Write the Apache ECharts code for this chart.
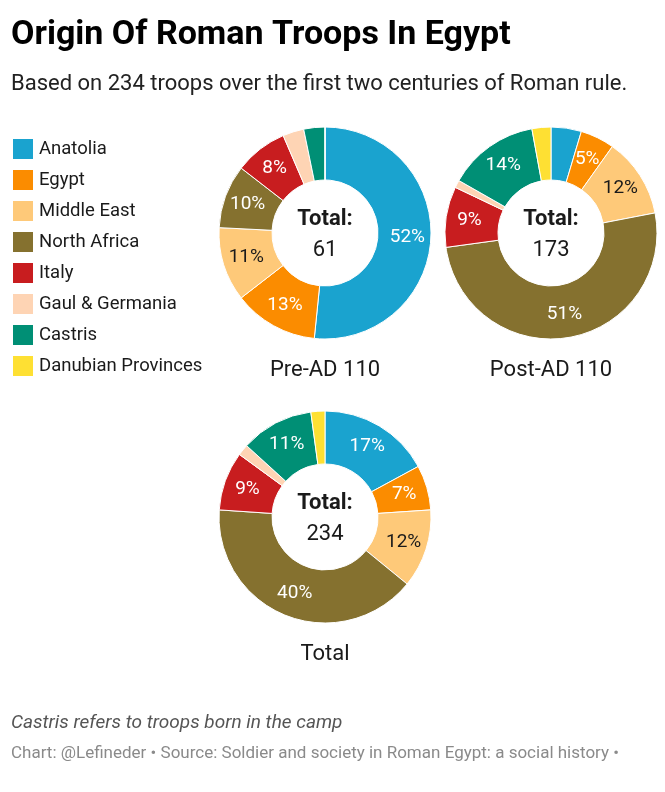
<!DOCTYPE html>
<html>
<head>
<meta charset="utf-8">
<script src="https://cdn.jsdelivr.net/npm/echarts@6/dist/echarts.min.js"></script>
<style>
  html, body { margin: 0; padding: 0; background: #fff; }
  #chart { width: 665px; height: 792px; }
</style>
</head>
<body>
<div id="chart"></div>
<script>
var regions = ["Anatolia", "Egypt", "Middle East", "North Africa", "Italy", "Gaul & Germania", "Castris", "Danubian Provinces"];
var colors = ["#1aa3cf", "#fb8c00", "#fec979", "#85712f", "#c81d1f", "#fed4b4", "#008f75", "#fee033"];
var labelColors = ["#fff", "#fff", "#1a1a1a", "#fff", "#fff", "#1a1a1a", "#fff", "#1a1a1a"];
var preAD110 = [32, 8, 7, 6, 5, 2, 2, 0];
var postAD110 = [8, 9, 21, 88, 16, 2, 24, 5];
var allTroops = [40, 16, 28, 94, 21, 4, 26, 5];
var totals = [61, 173, 234];
var pieNames = ["Pre-AD 110", "Post-AD 110", "Total"];

var font = "Roboto";
var chart = echarts.init(document.getElementById("chart"));

function pieData(values) {
	return regions.map(function (r, i) {
		return {
			name: r,
			value: values[i],
			itemStyle: { color: colors[i] },
			label: { color: labelColors[i] }
		};
	});
}

function pie(name, values, cx, cy) {
	var sum = values.reduce(function (a, b) { return a + b; }, 0);
	return {
		name: name,
		type: "pie",
		center: [cx, cy],
		radius: [53, 106],
		startAngle: 90,
		clockwise: true,
		percentPrecision: 0,
		avoidLabelOverlap: false,
		itemStyle: { borderColor: "#fff", borderWidth: 1 },
		label: {
			show: true,
			position: "inside",
			fontFamily: font,
			fontSize: 19,
			formatter: function (p) {
				// small slices stay unlabelled
				return p.value / sum < 0.05 ? "" : p.percent + "%";
			}
		},
		labelLine: { show: false },
		emphasis: { scale: false },
		data: pieData(values)
	};
}

// centre text + names under each donut
var centers = [[325, 233], [551, 233], [325, 517]];
var titles = [
	{
		text: "Origin Of Roman Troops In Egypt",
		left: 11, top: 18, padding: 0,
		textStyle: { fontFamily: font, fontWeight: "bold", fontSize: 34, color: "#000" }
	},
	{
		text: "Based on 234 troops over the first two centuries of Roman rule.",
		left: 11, top: 73, padding: 0,
		textStyle: { fontFamily: font, fontWeight: "normal", fontSize: 22, color: "#222" }
	},
	{
		text: "Castris refers to troops born in the camp",
		left: 11, top: 714, padding: 0,
		textStyle: { fontFamily: font, fontStyle: "italic", fontWeight: "normal", fontSize: 19, color: "#555" }
	},
	{
		text: "Chart: @Lefineder • Source: Soldier and society in Roman Egypt: a social history •",
		left: 11, top: 745, padding: 0,
		textStyle: { fontFamily: font, fontWeight: "normal", fontSize: 17, color: "#8a8a8a" }
	}
];
centers.forEach(function (c, i) {
	titles.push({
		text: "Total:",
		subtext: String(totals[i]),
		left: c[0], top: c[1] - 25,
		textAlign: "center",
		itemGap: 9,
		padding: 0,
		textStyle: { fontFamily: font, fontWeight: "bold", fontSize: 22, color: "#1a1a1a" },
		subtextStyle: { fontFamily: font, fontSize: 22, color: "#1a1a1a" }
	});
	titles.push({
		text: pieNames[i],
		left: c[0], top: c[1] + 126,
		textAlign: "center",
		padding: 0,
		textStyle: { fontFamily: font, fontWeight: "normal", fontSize: 22, color: "#1a1a1a" }
	});
});

chart.setOption({
	backgroundColor: "#fff",
	animation: false,
	title: titles,
	legend: {
		orient: "vertical",
		left: 11, top: 137,
		padding: 0,
		icon: "rect",
		itemWidth: 22, itemHeight: 22, itemGap: 7,
		selectedMode: false,
		data: regions,
		textStyle: { fontFamily: font, fontSize: 18.5, color: "#1a1a1a" }
	},
	series: [
		pie(pieNames[0], preAD110, centers[0][0], centers[0][1]),
		pie(pieNames[1], postAD110, centers[1][0], centers[1][1]),
		pie(pieNames[2], allTroops, centers[2][0], centers[2][1])
	]
});
</script>
</body>
</html>
